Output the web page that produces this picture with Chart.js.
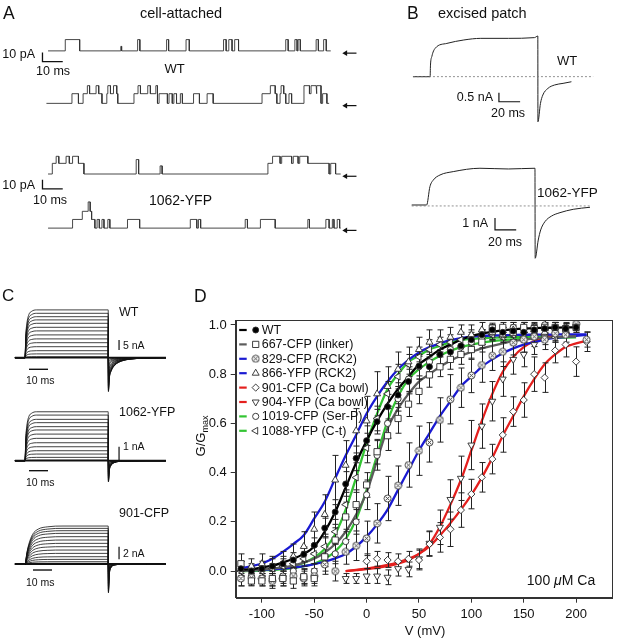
<!DOCTYPE html>
<html>
<head>
<meta charset="utf-8">
<script src="https://cdn.jsdelivr.net/npm/chart.js@4.4.1/dist/chart.umd.min.js"></script>
<style>
  body { margin: 0; background: #fff; }
  #fig { position: relative; width: 617px; height: 639px; overflow: hidden; background: #fff;
         font-family: "Liberation Sans", Arial, Helvetica, sans-serif; color: #111; }
  #fig canvas { position: absolute; }
  .lbl { position: absolute; white-space: nowrap; line-height: 1; }
</style>
</head>
<body>
<div id="fig">
  <canvas id="panelA" width="380" height="280" style="left:0;top:0"></canvas>
  <canvas id="panelB" width="237" height="280" style="left:380px;top:0"></canvas>
  <canvas id="panelC" width="172" height="359" style="left:0;top:280px"></canvas>
  <canvas id="panelD" width="442" height="354" style="left:175px;top:285px"></canvas>
</div>
<script>
// ---------------- Panel D: G/Gmax vs V (100 uM Ca) ----------------
const vSteps = [-120,-110,-100,-90,-80,-70,-60,-50,-40,-30,-20,-10,0,10,20,30,40,50,60,70,80,90,100,110,120,130,140,150,160,170,180,190,200,210];
const xTicksD = [-100, -50, 0, 50, 100, 150, 200];
const yTicksD = [0, 0.2, 0.4, 0.6, 0.8, 1.0];

const wtG   = [0.01,0.0,0.01,0.02,0.03,0.045,0.068,0.105,0.175,0.24,0.354,0.458,0.53,0.607,0.668,0.715,0.77,0.833,0.83,0.88,0.89,0.915,0.94,0.96,0.98,0.97,0.975,0.97,0.98,0.985,0.99,0.985,0.99,null];
const wtErr = [0.03,0.02,0.02,0.03,0.03,0.03,0.03,0.03,0.04,0.05,0.05,0.05,0.06,0.05,0.05,0.05,0.05,0.04,0.04,0.04,0.03,0.03,0.03,0.02,0.02,0.02,0.02,0.02,0.02,0.02,0.02,0.02,0.02,null];
const wtFit = [0.005,0.008,0.015,0.022,0.035,0.05,0.07,0.10,0.16,0.24,0.34,0.44,0.53,0.61,0.68,0.74,0.79,0.84,0.87,0.90,0.92,0.94,0.955,0.965,0.972,0.978,0.982,0.985,0.987,0.988,0.989,0.99,0.99,null];

const g667   = [0.03,-0.04,-0.04,-0.03,-0.03,-0.04,-0.023,-0.03,0.058,0.126,0.22,0.27,0.35,0.485,0.55,0.62,0.678,0.73,0.797,0.83,0.86,0.88,0.9,0.93,0.987,0.99,0.97,0.99,0.985,0.99,0.99,0.985,0.99,null];
const err667 = [0.04,0.02,0.02,0.03,0.03,0.03,0.03,0.03,0.04,0.05,0.06,0.06,0.05,0.05,0.06,0.06,0.05,0.05,0.05,0.04,0.04,0.04,0.04,0.04,0.02,0.02,0.03,0.02,0.02,0.02,0.02,0.02,0.02,null];
const fit667 = [0.0,0.003,0.006,0.01,0.015,0.022,0.035,0.05,0.075,0.11,0.16,0.23,0.32,0.45,0.58,0.66,0.72,0.77,0.8,0.83,0.855,0.875,0.89,0.905,0.915,0.925,0.935,0.94,0.945,0.948,0.95,0.952,0.954,null];

const g829   = [-0.03,-0.027,-0.03,-0.04,-0.03,-0.02,-0.03,-0.02,0.027,0.0,0.078,0.103,0.133,0.194,0.295,0.347,0.431,0.489,0.523,0.614,0.698,0.745,0.795,0.837,0.875,0.891,0.928,0.94,0.952,0.94,0.966,0.96,1.004,0.94];
const err829 = [0.03,0.03,0.03,0.03,0.03,0.03,0.03,0.03,0.04,0.04,0.05,0.06,0.07,0.08,0.09,0.08,0.09,0.1,0.08,0.09,0.1,0.08,0.07,0.07,0.06,0.06,0.05,0.05,0.04,0.04,0.03,0.03,0.02,0.03];
const fit829 = [0.003,0.004,0.005,0.007,0.01,0.015,0.02,0.028,0.038,0.052,0.07,0.1,0.14,0.19,0.25,0.33,0.41,0.49,0.56,0.63,0.69,0.75,0.79,0.83,0.86,0.885,0.905,0.92,0.93,0.94,0.947,0.952,0.956,0.96];

const g866   = [0.01,0.02,0.03,0.02,0.03,0.06,0.1,0.17,0.23,0.37,0.43,0.57,0.61,0.72,0.75,0.82,0.85,0.9,0.93,0.94,0.95,0.97,0.96,0.98,0.97,0.96,0.98,0.99,0.98,0.97,0.99,null,null,null];
const err866 = [0.03,0.03,0.04,0.04,0.05,0.05,0.06,0.07,0.08,0.1,0.1,0.09,0.1,0.09,0.08,0.07,0.06,0.05,0.05,0.04,0.04,0.03,0.04,0.03,0.03,0.03,0.03,0.02,0.02,0.03,0.02,null,null,null];
const fit866 = [0.011,0.02,0.031,0.05,0.078,0.11,0.146,0.214,0.282,0.377,0.47,0.553,0.64,0.71,0.77,0.82,0.858,0.888,0.91,0.925,0.938,0.946,0.952,0.955,0.957,0.958,0.959,0.96,0.96,0.961,0.961,0.962,0.962,0.962];

const g901   = [...Array(12).fill(null), 0.04,0.05,0.045,0.04,0.05,0.045,0.11,0.137,0.17,0.248,0.313,0.381,0.455,0.553,0.648,0.695,0.8,0.786,0.896,0.92,0.851,0.932];
const err901 = [...Array(12).fill(null), 0.03,0.03,0.03,0.03,0.03,0.04,0.05,0.06,0.07,0.07,0.06,0.06,0.06,0.07,0.06,0.07,0.07,0.06,0.05,0.05,0.06,0.04];
const fit901 = [...Array(10).fill(null), 0.0,0.005,0.01,0.017,0.025,0.036,0.05,0.07,0.1,0.145,0.195,0.25,0.31,0.38,0.46,0.55,0.63,0.71,0.78,0.84,0.88,0.91,0.925,0.935];

const g904   = [...Array(10).fill(null), -0.03,-0.03,-0.02,-0.02,-0.025,0.01,0.007,0.05,0.113,0.178,0.291,0.377,0.512,0.589,0.69,0.78,0.86,0.88,0.92,0.95,0.96,null,null,null];
const err904 = [...Array(10).fill(null), 0.02,0.02,0.03,0.03,0.03,0.03,0.03,0.04,0.05,0.07,0.08,0.09,0.1,0.09,0.08,0.07,0.06,0.05,0.04,0.03,0.03,null,null,null];
const fit904 = [...Array(10).fill(null), 0.0,0.004,0.008,0.013,0.02,0.03,0.045,0.07,0.11,0.18,0.27,0.37,0.49,0.61,0.72,0.81,0.87,0.91,0.935,0.95,0.96,null,null,null];

const g1019   = [-0.03,-0.02,0.01,-0.03,-0.02,0.0,-0.02,0.0,0.03,0.07,0.12,0.2,0.31,0.47,0.6,0.7,0.78,0.83,0.85,0.88,0.9,0.91,0.93,0.95,0.97,0.96,0.99,0.99,0.99,1.0,0.99,0.99,1.0,null];
const err1019 = [0.03,0.03,0.03,0.03,0.03,0.03,0.03,0.03,0.03,0.04,0.05,0.05,0.06,0.06,0.06,0.05,0.05,0.05,0.04,0.04,0.04,0.03,0.03,0.03,0.02,0.02,0.02,0.02,0.02,0.02,0.02,0.02,0.02,null];
const fit1019 = [0.0,0.001,0.003,0.005,0.008,0.012,0.02,0.03,0.05,0.08,0.13,0.21,0.33,0.47,0.61,0.71,0.78,0.82,0.85,0.875,0.895,0.91,0.92,0.928,0.934,0.938,0.941,0.944,0.946,0.947,0.948,0.949,0.95,null];

const g1088   = [0.0,0.01,0.0,0.01,0.02,0.03,0.05,0.07,0.1,0.16,0.27,0.38,0.5,0.62,0.72,0.79,0.84,0.87,0.9,0.92,0.93,0.94,0.95,0.95,0.96,0.95,0.96,0.95,0.96,0.96,0.95,null,null,null];
const err1088 = [0.02,0.02,0.02,0.02,0.03,0.03,0.03,0.04,0.04,0.05,0.05,0.06,0.06,0.05,0.05,0.05,0.04,0.04,0.04,0.03,0.03,0.03,0.03,0.03,0.02,0.02,0.02,0.02,0.02,0.02,0.02,null,null,null];
const fit1088 = [0.0,0.002,0.004,0.007,0.012,0.02,0.033,0.055,0.09,0.15,0.25,0.38,0.52,0.64,0.74,0.8,0.85,0.875,0.9,0.915,0.93,0.938,0.943,0.946,0.948,0.95,0.951,0.952,0.952,0.953,0.953,null,null,null];

// ---------------- Panel A: single-channel events [start ms, end ms, pA] ----------------
const aWtTop = [[8.5,15.6,12.5],[35.9,36.3,5],[44.2,45.3,12.5],[58.5,59.5,12.5],[68.1,69.7,12.5],[86.6,87.9,12.5],[89.2,90.8,12.5],[92.1,94.0,12.5],[117.3,118.5,12.5],[121.8,122.9,12.5],[123.4,124.5,12.5],[132.3,133.4,12.5],[136.0,137.3,12.5]];
const aWtBottom = [[11.8,15.0,10.7],[17.3,26.6,10.7],[19.4,20.5,19.6],[23.7,25.0,19.6],[29.0,34.4,10.7],[29.5,30.8,19.6],[32.3,33.9,19.6],[42.4,54.0,10.7],[44.4,45.6,19.6],[49.2,50.5,19.6],[53.2,54.0,19.6],[54.8,58.9,10.7],[59.7,61.3,10.7],[62.1,63.4,10.7],[65.3,66.3,10.7],[71.8,74.7,10.7],[78.5,81.5,10.7],[105.6,112.9,10.7],[109.7,112.1,19.6],[114.5,117.3,10.7],[115.0,116.3,19.6],[118.9,120.2,10.7],[126.3,134.7,10.7],[126.3,129.0,19.6],[129.8,132.3,19.6],[132.7,134.7,19.6],[135.5,137.6,10.7]];
const aYfpTop = [[2.1,17.7,11.8],[4.0,5.3,19.6],[8.9,10.5,19.6],[12.1,15.0,19.6],[43.5,44.7,16],[55.3,56.3,9],[108.5,138.7,11.8],[110.8,114.5,19.6],[115.3,120.2,19.6],[121.0,123.4,19.6],[124.2,128.2,19.6],[139.5,141.9,11.8]];
const aYfpBottom = [[12.1,16.9,9.6],[16.9,21.5,18.6],[19.8,20.8,29],[21.5,23.1,9.6],[24.2,25.3,9.6],[26.6,27.6,9.6],[29.5,30.5,9.6],[39.2,45.2,9.6],[70.2,73.4,9.6],[74.2,75.3,9.6],[97.3,98.4,9.6],[104.8,112.1,9.6],[128.2,129.0,9.6],[137.1,138.7,9.6],[140.3,141.1,9.6],[142.7,143.9,9.6]];
const aSpans = [[0,139.5],[-0.8,138.7],[0,144.4],[0,144.4]];

// ---------------- Panel B: macroscopic currents (ms, nA) ----------------
const bWtT = [0,16.2,16.5,17.8,21,32,48,64,90,114.6,117.8,117.9,120.3,122.5,127.3,133.6,141.6,149.5];
const bWtI = [0,0,0.6,1.12,1.58,1.85,2.04,2.13,2.13,2.17,2.26,-2.5,-1.48,-1.02,-0.65,-0.46,-0.37,-0.28];
const bYfpT = [-1.2,12.9,16.0,19.2,25.5,38.0,63.2,90,115.1,115.3,118.2,120.5,124.5,130.8,138.7,151.2,167.0];
const bYfpI = [0,0,1.53,2.08,2.5,2.78,3.06,3.0,3.06,-4.44,-2.92,-2.08,-1.39,-0.92,-0.64,-0.36,-0.19];

// ---------------- Panel C: current families (nA) ----------------
const cPlateauWT  = [23.9,22.2,20.5,18.9,17.2,15.2,13.4,11.4,9.4,7.5,5.5,3.5,1.9,0.5];
const cTailWT     = [-17,-16.5,-16,-15,-14,-12.5,-11,-9,-7.5,-5.5,-4,-2.5,-1.2,-0.3];
const cPlateauYFP = [3.68,3.43,3.11,2.86,2.56,2.31,2.0,1.68,1.35,1.05,0.75,0.5,0.25,0.05];
const cTailYFP    = [-1.6,-1.55,-1.5,-1.4,-1.3,-1.15,-1.0,-0.85,-0.7,-0.5,-0.35,-0.2,-0.1,-0.02];
const cPlateauCFP = [6.03,5.66,5.29,4.87,4.34,3.81,3.28,2.75,2.22,1.69,1.16,0.74,0.37,0.11];
const cTailCFP    = [-4.6,-4.4,-4.2,-3.9,-3.5,-3.1,-2.6,-2.1,-1.6,-1.2,-0.8,-0.5,-0.25,-0.05];
const cRiseFastT = [0.05,0.4,1,2,3.5,6];
const cRiseFastF = [0,0.45,0.72,0.9,0.97,1];
const cRiseSlowT = [0.05,1,2,4,7,12,20];
const cRiseSlowF = [0,0.3,0.52,0.78,0.92,0.98,1];
const cTailT     = [0.1,0.6,1.5,3.5,7,12,20,30];
const cTailFWT   = [1,0.6,0.4,0.22,0.1,0.04,0.01,0];
const cTailFYFP  = [1,0.45,0.22,0.08,0.03,0.01,0,0];
const cTailFCFP  = [1,0.35,0.12,0.03,0.01,0,0,0];
const cPulse = [-5.3, 0, 43.8, 74.2]; // trace start, step on, step off, trace end (ms)

// ---------------- helpers ----------------
const fig = document.getElementById("fig");
const FONT = '"Liberation Sans", Arial, Helvetica, sans-serif';

function addLabel(html, x, y, size, anchor, rotate) {
    const d = document.createElement("div");
    d.className = "lbl";
    d.innerHTML = html;
    d.style.left = x + "px";
    d.style.top = y + "px";
    d.style.fontSize = size + "px";
    const tx = anchor === "c" ? "-50%" : anchor === "r" ? "-100%" : "0";
    d.style.transform = `translate(${tx},-50%)` + (rotate ? ` rotate(${rotate}deg)` : "");
    fig.appendChild(d);
}

function pairs(xs, ys, extra) {
    return xs.map((x, i) => ({ x, y: ys[i], e: extra ? extra[i] : null })).filter(p => p.y != null);
}

// step trace from a list of open intervals
function stepTrace(span, events, base) {
    const cuts = new Set([span[0], span[1]]);
    events.forEach(e => { cuts.add(e[0]); cuts.add(e[1]); });
    const ts = [...cuts].sort((a, b) => a - b);
    const level = t => events.reduce((m, e) => (t >= e[0] && t < e[1]) ? Math.max(m, e[2]) : m, 0);
    const pts = [];
    ts.forEach((t, i) => {
        if (i > 0) pts.push({ x: t, y: base + level(ts[i - 1]) });
        if (i < ts.length - 1) pts.push({ x: t, y: base + level(t) });
    });
    return pts;
}

function familyTrace(plateau, tail, riseT, riseF, tailF) {
    const pts = [{ x: cPulse[0], y: 0 }, { x: cPulse[1], y: 0 }];
    riseT.forEach((t, i) => pts.push({ x: cPulse[1] + t, y: plateau * riseF[i] }));
    pts.push({ x: cPulse[2], y: plateau });
    cTailT.forEach((t, i) => pts.push({ x: cPulse[2] + t, y: tail * tailF[i] }));
    pts.push({ x: cPulse[3], y: 0 });
    return pts;
}

function lineSet(data, opts) {
    return Object.assign({
        data, showLine: true, pointRadius: 0, borderColor: "#222", borderWidth: 1,
        tension: 0, fill: false
    }, opts || {});
}

const bareOptions = (scales) => ({
    responsive: false, animation: false, events: [],
    layout: { padding: 0 },
    plugins: { legend: { display: false }, tooltip: { enabled: false } },
    scales
});
const hidden = (min, max, extra) => Object.assign({ type: "linear", min, max, display: false }, extra || {});

// ---------------- Panel A ----------------
const aBase = [249.2, 191.1, 112.9, 53];
const aTraces = [aWtTop, aWtBottom, aYfpTop, aYfpBottom];
const aSets = aTraces.map((ev, i) => lineSet(stepTrace(aSpans[i], ev, aBase[i]), { borderColor: "#333", borderWidth: 0.9 }));
// scale bars (10 pA, 10 ms)
[247.3, 106.5].forEach(top => {
    aSets.push(lineSet([{ x: -2.75, y: top }, { x: -2.75, y: top - 10 }, { x: 7.25, y: top - 10 }], { borderColor: "#111", borderWidth: 1.3 }));
});
// closed-level arrows
aBase.forEach((b, i) => {
    aSets.push(lineSet([{ x: 146.8, y: b - 2.5 }, { x: 152.2, y: b - 2.5 }], {
        borderColor: "#111", borderWidth: 1.2, pointRadius: [3.2, 0], pointStyle: "triangle",
        pointRotation: -90, pointBackgroundColor: "#111", pointBorderColor: "#111", pointBorderWidth: 0
    }));
});
new Chart(document.getElementById("panelA"), {
    type: "scatter",
    data: { datasets: aSets },
    options: bareOptions({ x: hidden(-21.74, 161.84), y: hidden(0, 301.1) })
});

// ---------------- Panel B ----------------
const bSets = [
    lineSet([{ x: 0, y: 0 }, { x: 170, y: 0 }], { borderColor: "#777", borderWidth: 0.8, borderDash: [2, 2], yAxisID: "y" }),
    lineSet([{ x: -1.2, y: -0.08 }, { x: 168, y: -0.08 }], { borderColor: "#777", borderWidth: 0.8, borderDash: [2, 2], yAxisID: "y2" }),
    lineSet(pairs(bWtT, bWtI), { borderColor: "#222", borderWidth: 1, cubicInterpolationMode: "monotone", yAxisID: "y" }),
    lineSet(pairs(bYfpT, bYfpI), { borderColor: "#222", borderWidth: 1, cubicInterpolationMode: "monotone", yAxisID: "y2" }),
    // 0.5 nA / 20 ms
    lineSet([{ x: 81.1, y: -0.89 }, { x: 81.1, y: -1.39 }, { x: 101.1, y: -1.39 }], { borderColor: "#111", borderWidth: 1.2, yAxisID: "y" }),
    // 1 nA / 20 ms
    lineSet([{ x: 77.4, y: -1.08 }, { x: 77.4, y: -2.08 }, { x: 97.4, y: -2.08 }], { borderColor: "#111", borderWidth: 1.2, yAxisID: "y2" })
];
new Chart(document.getElementById("panelB"), {
    type: "scatter",
    data: { datasets: bSets },
    options: bareOptions({ x: hidden(-31.1, 192.5), y: hidden(-11.29, 4.26), y2: hidden(-6.25, 17.08) })
});

// ---------------- Panel C ----------------
const cSets = [];
const families = [
    { axis: "yW", plateau: cPlateauWT, tail: cTailWT, riseT: cRiseFastT, riseF: cRiseFastF, tailF: cTailFWT },
    { axis: "yY", plateau: cPlateauYFP, tail: cTailYFP, riseT: cRiseFastT, riseF: cRiseFastF, tailF: cTailFYFP },
    { axis: "yF", plateau: cPlateauCFP, tail: cTailCFP, riseT: cRiseSlowT, riseF: cRiseSlowF, tailF: cTailFCFP }
];
families.forEach(f => {
    f.plateau.forEach((p, i) => {
        cSets.push(lineSet(familyTrace(p, f.tail[i], f.riseT, f.riseF, f.tailF),
            { borderColor: "#111", borderWidth: 0.8, cubicInterpolationMode: "monotone", yAxisID: f.axis }));
    });
    cSets.push(lineSet([{ x: cPulse[0], y: 0 }, { x: cPulse[3], y: 0 }], { borderColor: "#111", borderWidth: 1.8, yAxisID: f.axis }));
});
// scale bars: vertical (nA) and horizontal 10 ms
cSets.push(lineSet([{ x: 49.5, y: 8.85 }, { x: 49.5, y: 3.85 }], { borderColor: "#111", borderWidth: 1.2, yAxisID: "yW" }));
cSets.push(lineSet([{ x: 2.1, y: -5.8 }, { x: 12.1, y: -5.8 }], { borderColor: "#111", borderWidth: 1.4, yAxisID: "yW" }));
cSets.push(lineSet([{ x: 49.5, y: 1.05 }, { x: 49.5, y: 0.05 }], { borderColor: "#111", borderWidth: 1.2, yAxisID: "yY" }));
cSets.push(lineSet([{ x: 2.1, y: -0.75 }, { x: 12.1, y: -0.75 }], { borderColor: "#111", borderWidth: 1.4, yAxisID: "yY" }));
cSets.push(lineSet([{ x: 49.5, y: 2.75 }, { x: 49.5, y: 0.75 }], { borderColor: "#111", borderWidth: 1.2, yAxisID: "yF" }));
cSets.push(lineSet([{ x: 4.2, y: -0.95 }, { x: 14.2, y: -0.95 }], { borderColor: "#111", borderWidth: 1.4, yAxisID: "yF" }));
new Chart(document.getElementById("panelC"), {
    type: "scatter",
    data: { datasets: cSets },
    options: bareOptions({
        x: hidden(-13.16, 77.37),
        yW: hidden(-140.65, 38.85), yY: hidden(-13.41, 13.59), yF: hidden(-11.9, 45.08)
    })
});

// ---------------- Panel D ----------------
function makeCrossCircle() {
    const c = document.createElement("canvas");
    c.width = 9; c.height = 9;
    const x = c.getContext("2d");
    x.strokeStyle = "#333"; x.lineWidth = 0.9; x.fillStyle = "#fff";
    x.beginPath(); x.arc(4.5, 4.5, 3.5, 0, Math.PI * 2); x.fill(); x.stroke();
    x.beginPath(); x.moveTo(2.6, 2.6); x.lineTo(6.4, 6.4); x.moveTo(6.4, 2.6); x.lineTo(2.6, 6.4); x.stroke();
    return c;
}
const crossCircle = makeCrossCircle();

const BLACK = "#000000", GRAY = "#5c5c5c", BLUE = "#1a1ad2", RED = "#e4201e", GREEN = "#33c433";
const dSeries = [
    { name: "WT",                g: wtG,   err: wtErr,   fit: wtFit,   color: BLACK, point: "circle",    fill: "#000", rot: 0,   r: 3 },
    { name: "667-CFP (linker)",  g: g667,  err: err667,  fit: fit667,  color: GRAY,  point: "rect",      fill: "#fff", rot: 0,   r: 4.4 },
    { name: "829-CFP (RCK2)",    g: g829,  err: err829,  fit: fit829,  color: BLUE,  point: crossCircle, fill: "#fff", rot: 0,   r: 3.5 },
    { name: "866-YFP (RCK2)",    g: g866,  err: err866,  fit: fit866,  color: BLUE,  point: "triangle",  fill: "#fff", rot: 0,   r: 4 },
    { name: "901-CFP (Ca bowl)", g: g901,  err: err901,  fit: fit901,  color: RED,   point: "rectRot",   fill: "#fff", rot: 0,   r: 3.6 },
    { name: "904-YFP (Ca bowl)", g: g904,  err: err904,  fit: fit904,  color: RED,   point: "triangle",  fill: "#fff", rot: 180, r: 4 },
    { name: "1019-CFP (Ser-P)",  g: g1019, err: err1019, fit: fit1019, color: GREEN, point: "circle",    fill: "#fff", rot: 0,   r: 3.1 },
    { name: "1088-YFP (C-t)",    g: g1088, err: err1088, fit: fit1088, color: GREEN, point: "triangle",  fill: "#fff", rot: -90, r: 4 }
];

const dSets = [];
dSeries.forEach(s => {
    dSets.push({
        label: s.name, data: pairs(vSteps, s.g, s.err), showLine: false,
        pointStyle: s.point, pointRotation: s.rot, pointRadius: s.r,
        pointBackgroundColor: s.fill, pointBorderColor: "#2a2a2a", pointBorderWidth: 0.9,
        hasErr: true, order: 0
    });
});
dSeries.forEach(s => {
    dSets.push({
        label: s.name + " fit", data: pairs(vSteps, s.fit), showLine: true, pointRadius: 0,
        borderColor: s.color, borderWidth: 2.3, cubicInterpolationMode: "monotone", fill: false, order: 1
    });
});

const errorBars = {
    id: "errorBars",
    beforeDatasetsDraw(chart) { chart.$errDone = false; },
    beforeDatasetDraw(chart, args) {
        if (chart.$errDone || !chart.data.datasets[args.index].hasErr) return;
        chart.$errDone = true;
        const { ctx, chartArea: a, scales: { x, y } } = chart;
        ctx.save();
        ctx.beginPath(); ctx.rect(a.left, a.top, a.right - a.left, a.bottom - a.top); ctx.clip();
        ctx.strokeStyle = "#222"; ctx.lineWidth = 1;
        chart.data.datasets.forEach(ds => {
            if (!ds.hasErr) return;
            ds.data.forEach(p => {
                if (p.e == null) return;
                const px = Math.round(x.getPixelForValue(p.x)) + 0.5;
                const y1 = y.getPixelForValue(p.y + p.e), y2 = y.getPixelForValue(p.y - p.e);
                ctx.beginPath();
                ctx.moveTo(px, y1); ctx.lineTo(px, y2);
                ctx.moveTo(px - 3, y1); ctx.lineTo(px + 3, y1);
                ctx.moveTo(px - 3, y2); ctx.lineTo(px + 3, y2);
                ctx.stroke();
            });
        });
        ctx.restore();
    }
};

const frameAndLegend = {
    id: "frameAndLegend",
    afterDraw(chart) {
        const { ctx, chartArea: a } = chart;
        ctx.save();
        ctx.strokeStyle = "#333"; ctx.lineWidth = 1;
        ctx.strokeRect(Math.round(a.left) + 0.5, Math.round(a.top) + 0.5, Math.round(a.right - a.left), Math.round(a.bottom - a.top));
        // legend inside the plot, top-left
        ctx.font = "12.5px " + FONT;
        ctx.textBaseline = "middle";
        dSeries.forEach((s, i) => {
            const yy = a.top + 10 + i * 14.4;
            ctx.strokeStyle = s.color; ctx.lineWidth = 2.2;
            ctx.beginPath(); ctx.moveTo(a.left + 3.5, yy); ctx.lineTo(a.left + 11, yy); ctx.stroke();
            ctx.fillStyle = s.fill; ctx.strokeStyle = "#2a2a2a"; ctx.lineWidth = 0.9;
            Chart.helpers.drawPoint(ctx, { pointStyle: s.point, rotation: s.rot, radius: s.r, borderWidth: 0.9 }, a.left + 20, yy);
            ctx.fillStyle = "#111";
            ctx.fillText(s.name, a.left + 26, yy + 0.5);
        });
        ctx.restore();
    }
};

new Chart(document.getElementById("panelD"), {
    type: "scatter",
    data: { datasets: dSets },
    options: {
        responsive: false, animation: false, events: [],
        layout: { padding: { top: 35, right: 3, left: 0, bottom: 0 } },
        plugins: { legend: { display: false }, tooltip: { enabled: false } },
        scales: {
            x: {
                type: "linear", min: -125, max: 234, position: "bottom",
                grid: { drawOnChartArea: false, drawTicks: true, tickLength: 5, color: "#333" },
                border: { display: true, color: "#333" },
                ticks: { font: { family: FONT, size: 13 }, color: "#111", padding: 4, maxRotation: 0, callback: v => String(v) },
                afterBuildTicks: s => { s.ticks = xTicksD.map(v => ({ value: v })); },
                afterFit: s => { s.height = 41.3; }
            },
            y: {
                type: "linear", min: -0.108, max: 1.02, position: "left",
                grid: { drawOnChartArea: false, drawTicks: true, tickLength: 5, color: "#333" },
                border: { display: true, color: "#333" },
                ticks: { font: { family: FONT, size: 13 }, color: "#111", padding: 4, callback: v => Number(v).toFixed(1) },
                afterBuildTicks: s => { s.ticks = yTicksD.map(v => ({ value: v })); },
                afterFit: s => { s.width = 60.7; }
            }
        }
    },
    plugins: [errorBars, frameAndLegend]
});

// ---------------- text ----------------
addLabel("A", 3, 14, 17.5, "l");
addLabel("cell-attached", 181, 13, 14.5, "c");
addLabel("10 pA", 35, 54, 12.5, "r");
addLabel("10 ms", 36, 71, 12.5, "l");
addLabel("WT", 174.5, 68, 13, "c");
addLabel("10 pA", 35, 184.5, 12.5, "r");
addLabel("10 ms", 33, 199.5, 12.5, "l");
addLabel("1062-YFP", 180.5, 200, 14, "c");

addLabel("B", 407, 14, 17.5, "l");
addLabel("excised patch", 438, 13, 14.5, "l");
addLabel("WT", 557, 60, 13, "l");
addLabel("0.5 nA", 493, 97, 12.5, "r");
addLabel("20 ms", 491, 113, 12.5, "l");
addLabel("1062-YFP", 537, 193, 13.5, "l");
addLabel("1 nA", 488, 223, 12.5, "r");
addLabel("20 ms", 488, 242, 12.5, "l");

addLabel("C", 2, 295, 17, "l");
addLabel("WT", 119, 312, 12.5, "l");
addLabel("5 nA", 123, 345, 10.5, "l");
addLabel("10 ms", 26, 380, 10.5, "l");
addLabel("1062-YFP", 119, 412, 12.5, "l");
addLabel("1 nA", 123, 446, 10.5, "l");
addLabel("10 ms", 26, 482, 10.5, "l");
addLabel("901-CFP", 119, 513, 12.5, "l");
addLabel("2 nA", 123, 553, 10.5, "l");
addLabel("10 ms", 26, 582, 10.5, "l");

addLabel("D", 194, 297, 17.5, "l");
addLabel('G/G<span style="font-size:9px;position:relative;top:3px">max</span>', 200, 436, 13, "c", -90);
addLabel("V (mV)", 425, 630, 13, "c");
addLabel("100 <i>μ</i>M Ca", 561, 580, 14, "c");
</script>
</body>
</html>
